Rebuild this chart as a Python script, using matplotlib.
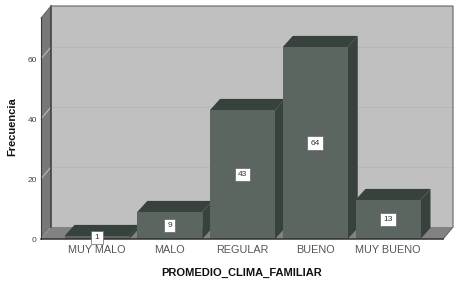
import matplotlib
matplotlib.use("Agg")
import matplotlib.pyplot as plt
from matplotlib.patches import Polygon

plt.rcParams["font.family"] = ["Liberation Sans", "DejaVu Sans"]

categorias = ["MUY MALO", "MALO", "REGULAR", "BUENO", "MUY BUENO"]
frecuencia = [1, 9, 43, 64, 13]
y_ticks = [0, 20, 40, 60]

W, H = 459, 284
fig = plt.figure(figsize=(W / 100, H / 100), dpi=100, facecolor="white")
ax = fig.add_axes([41 / W, (H - 239) / H, (443 - 41) / W, (239 - 18) / H])
ax.set_xlim(-0.77, 4.756)
ax.set_ylim(0, 73.67)
ax.patch.set_visible(False)
for s in ax.spines.values():
    s.set_visible(False)

# fake 3d depth, in data units
dx = 10 / 72.75
dy = 4.0
x0, x1 = ax.get_xlim()
y1 = ax.get_ylim()[1]


def poly(pts, color, z, ec="none", lw=0):
    ax.add_patch(Polygon(pts, closed=True, facecolor=color, edgecolor=ec,
                         linewidth=lw, zorder=z, clip_on=False))


# back wall, left wall, floor
poly([(x0 + dx, dy), (x1 + dx, dy), (x1 + dx, y1 + dy), (x0 + dx, y1 + dy)], "#c0c0c0", 1)
poly([(x0, 0), (x0 + dx, dy), (x0 + dx, y1 + dy), (x0, y1)], "#787878", 1)
poly([(x0, 0), (x1, 0), (x1 + dx, dy), (x0 + dx, dy)], "#828282", 1)

for v in y_ticks[1:]:
    ax.plot([x0 + dx, x1 + dx], [v + dy, v + dy], color="#b6b6b6", lw=0.6, zorder=2, clip_on=False)
    ax.plot([x0, x0 + dx], [v, v + dy], color="#c4c4c4", lw=0.7, zorder=2, clip_on=False)

# wall outlines
ax.plot([x0 + dx, x0 + dx], [dy, y1 + dy], color="#3a3a3a", lw=1.1, zorder=3, clip_on=False)
ax.plot([x0 + dx, x1 + dx, x1 + dx, x1], [y1 + dy, y1 + dy, dy, 0], color="#666666", lw=0.8, zorder=3, clip_on=False)
ax.plot([x0, x0 + dx], [y1, y1 + dy], color="#666666", lw=0.7, zorder=3, clip_on=False)
ax.plot([x0, x0], [0, y1], color="#3a3a3a", lw=0.8, zorder=3, clip_on=False)
ax.plot([x0, x1], [0, 0], color="#303030", lw=1.1, zorder=9, clip_on=False)

# bars, left to right so each front hides the previous side
ancho = 65 / 72.75
for i, v in enumerate(frecuencia):
    z = 4 + i * 0.1
    l, r = i - ancho / 2, i + ancho / 2
    poly([(l, v), (r, v), (r + dx, v + 3.7), (l + dx, v + 3.7)], "#38423c", z)
    poly([(r, 0), (r + dx, 3.7), (r + dx, v + 3.7), (r, v)], "#38423c", z)
    ax.bar(i, v, width=ancho, color="#5a665f", zorder=z + 0.05)

for i, v in enumerate(frecuencia):
    ax.text(i, v / 2, str(v), ha="center", va="center", fontsize=6, color="#333333", zorder=10,
            bbox=dict(boxstyle="square,pad=0.4", facecolor="white", edgecolor="#666666", linewidth=0.5),
            clip_on=False)

ax.set_xticks(range(len(categorias)))
ax.set_xticklabels(categorias, fontsize=7.8, color="#555555")
ax.set_yticks(y_ticks)
ax.set_yticklabels([str(v) for v in y_ticks], fontsize=6, color="#444444")
ax.tick_params(axis="x", length=0, pad=4)
ax.tick_params(axis="y", length=0, pad=3)

fig.text(242 / W, 1 - 273 / H, "PROMEDIO_CLIMA_FAMILIAR", ha="center", va="center",
         fontsize=8, fontweight="bold", color="#111111")
fig.text(12 / W, 1 - 127 / H, "Frecuencia", ha="center", va="center", rotation=90,
         fontsize=8, fontweight="bold", color="#111111")

fig.savefig("out.png", dpi=100, facecolor="white")
